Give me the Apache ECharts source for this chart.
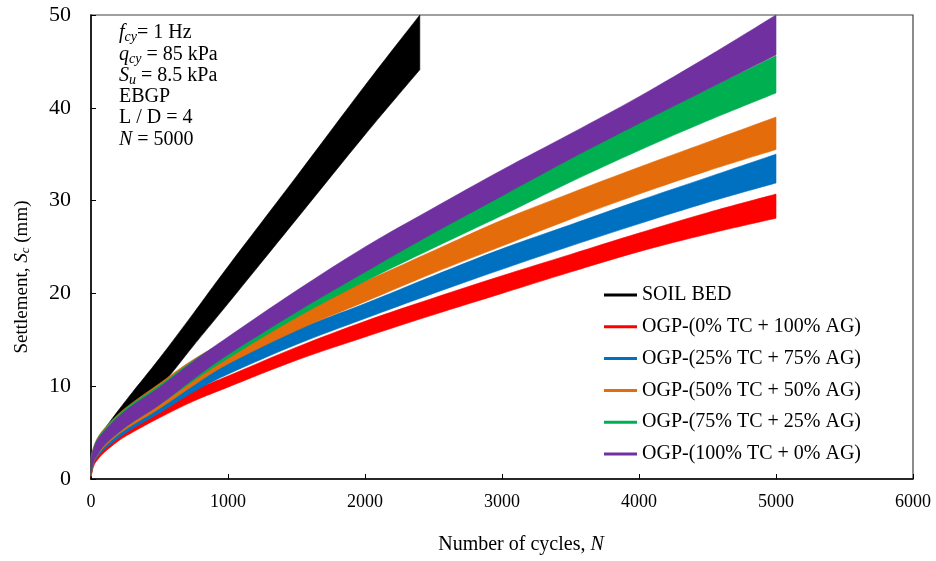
<!DOCTYPE html>
<html>
<head>
<meta charset="utf-8">
<script src="https://cdn.jsdelivr.net/npm/echarts@6/dist/echarts.min.js"></script>
<style>html,body{margin:0;padding:0;background:#fff}#c{width:936px;height:561px}</style>
</head>
<body>
<div id="c"></div>
<script>
// ---- Data ----
const xTicks = [0, 1000, 2000, 3000, 4000, 5000, 6000];
const yTicks = [0, 10, 20, 30, 40, 50];

const nSoil = [0, 20, 50, 100, 200, 300, 500, 750, 1000, 1500, 2000, 2400];
const soilLow = [0.3, 1.8, 2.6, 3.5, 5.0, 6.7, 9.8, 14.4, 18.9, 28.0, 37.1, 44.1];
const soilUp  = [2.3, 3.3, 4.2, 5.4, 7.4, 9.3, 13.0, 17.9, 22.9, 32.6, 42.4, 50.0];

const nOGP = [0, 20, 50, 100, 200, 300, 500, 750, 1000, 1500, 2000, 2500, 3000, 3500, 4000, 4500, 5000];
const redLow = [0.2, 1.4, 2.1, 2.9, 4.1, 5.0, 6.6, 8.4, 9.9, 12.8, 15.3, 17.7, 20.0, 22.3, 24.5, 26.4, 28.1];
const redUp  = [1.4, 2.4, 3.2, 4.1, 5.3, 6.3, 8.0, 9.6, 11.1, 14.2, 17.0, 19.5, 21.9, 24.2, 26.5, 28.7, 30.7];
const blueLow = [0.3, 1.7, 2.4, 3.2, 4.4, 5.4, 7.1, 9.4, 11.3, 14.5, 17.3, 20.0, 22.6, 25.1, 27.5, 29.8, 31.9];
const blueUp  = [2.0, 3.0, 3.9, 4.9, 6.3, 7.4, 9.2, 11.2, 13.0, 16.1, 18.9, 21.9, 24.8, 27.4, 30.0, 32.5, 35.0];
const orangeLow = [0.3, 1.8, 2.6, 3.5, 4.8, 5.8, 7.6, 10.1, 12.4, 16.0, 19.1, 22.2, 25.1, 28.0, 30.7, 33.2, 35.5];
const orangeUp  = [2.4, 3.5, 4.5, 5.5, 7.0, 8.2, 10.3, 12.9, 14.9, 18.3, 21.3, 24.6, 27.9, 30.8, 33.6, 36.3, 39.0];
const greenLow = [0.4, 1.9, 2.7, 3.7, 5.0, 6.1, 8.0, 10.6, 13.0, 17.4, 21.3, 24.9, 28.4, 32.0, 35.4, 38.6, 41.6];
const greenUp  = [2.3, 3.4, 4.4, 5.4, 6.9, 8.1, 10.1, 12.8, 15.1, 19.8, 24.0, 27.6, 31.1, 34.8, 38.4, 42.0, 45.6];
const purpleLow = [0.5, 1.9, 2.7, 3.7, 5.0, 6.1, 8.0, 10.8, 13.4, 18.0, 22.3, 26.5, 30.5, 34.5, 38.3, 42.0, 45.7];
const purpleUp  = [2.2, 3.3, 4.3, 5.2, 6.7, 7.9, 9.9, 12.7, 15.3, 20.3, 25.0, 29.2, 33.3, 37.2, 41.2, 45.5, 50.0];

const seriesNames = ['SOIL BED', 'OGP-(0% TC + 100% AG)', 'OGP-(25% TC + 75% AG)', 'OGP-(50% TC + 50% AG)', 'OGP-(75% TC + 25% AG)', 'OGP-(100% TC + 0% AG)'];
const seriesColors = ['#000000', '#FF0000', '#0070C0', '#E46C0A', '#00B050', '#7030A0'];

const FONT = '"Liberation Serif", "Times New Roman", serif';

// Catmull-Rom -> cubic bezier path through pixel points (rendering only)
function curveTo(pts, start) {
  let d = start ? 'M' + pts[0][0] + ',' + pts[0][1] : 'L' + pts[0][0] + ',' + pts[0][1];
  const t = 0.35;
  for (let i = 0; i < pts.length - 1; i++) {
    const p0 = pts[Math.max(i - 1, 0)], p1 = pts[i], p2 = pts[i + 1], p3 = pts[Math.min(i + 2, pts.length - 1)];
    const k = i === 0 ? 0.6 : 1;
    const c1 = [p1[0] + (p2[0] - p0[0]) * t / 2 * k, p1[1] + (p2[1] - p0[1]) * t / 2 * k];
    const c2 = [p2[0] - (p3[0] - p1[0]) * t / 2, p2[1] - (p3[1] - p1[1]) * t / 2];
    d += 'C' + c1[0] + ',' + c1[1] + ' ' + c2[0] + ',' + c2[1] + ' ' + p2[0] + ',' + p2[1];
  }
  return d;
}

function band(name, color, xs, lo, up) {
  return {
    type: 'custom',
    name: name,
    coordinateSystem: 'cartesian2d',
    data: xs.map((x, i) => [x, lo[i], up[i]]),
    encode: { x: 0, y: [1, 2] },
    itemStyle: { color: color },
    silent: true,
    renderItem: function (params, api) {
      if (params.dataIndex !== 0) return null;
      const top = xs.map((x, i) => api.coord([x, up[i]]));
      const bot = xs.map((x, i) => api.coord([x, lo[i]])).reverse();
      const d = curveTo(top, true) + curveTo(bot, false) + 'Z';
      return { type: 'path', shape: { pathData: d }, style: { fill: color, stroke: color, lineWidth: 0.6 } };
    }
  };
}

const chart = echarts.init(document.getElementById('c'), null, { renderer: 'canvas' });
const FS = 20;
const rich = {
  n: { fontFamily: FONT, fontSize: FS, color: '#000' },
  i: { fontFamily: FONT, fontSize: FS, fontStyle: 'italic', color: '#000' },
  s: { fontFamily: FONT, fontSize: 14, fontStyle: 'italic', color: '#000', verticalAlign: 'bottom', padding: [9, 0, 0, 0] }
};
function annot(y, text) {
  return { type: 'text', x: 119, y: y, style: { text: text, rich: rich, font: FS + 'px ' + FONT, fill: '#000', verticalAlign: 'middle' } };
}

chart.setOption({
  animation: false,
  backgroundColor: '#fff',
  grid: { left: 91, right: 23, top: 15, bottom: 82, show: true, borderColor: '#404040', borderWidth: 1.2 },
  xAxis: {
    type: 'value', min: 0, max: 6000, interval: 1000,
    axisLine: { lineStyle: { color: '#000', width: 1.5 } },
    axisTick: { inside: true, length: 5, lineStyle: { color: '#000' } },
    splitLine: { show: false },
    axisLabel: { fontFamily: FONT, fontSize: 18, color: '#000', margin: 14, formatter: v => String(v) }
  },
  yAxis: {
    type: 'value', min: 0, max: 50, interval: 10,
    axisLine: { lineStyle: { color: '#000', width: 1.5 } },
    axisTick: { inside: true, length: 5, lineStyle: { color: '#000' } },
    splitLine: { show: false },
    axisLabel: { fontFamily: FONT, fontSize: 22, color: '#000', margin: 20 }
  },
  legend: {
    orient: 'vertical', left: 599, top: 280,
    itemWidth: 33, itemHeight: 3, itemGap: 11.8, icon: 'rect',
    textStyle: { fontFamily: FONT, fontSize: 20, color: '#000', lineHeight: 20 },
    data: seriesNames
  },
  graphic: [
    annot(33, '{i|f}{s|cy}{n|= 1 Hz}'),
    annot(55, '{i|q}{s|cy}{n| = 85 kPa}'),
    annot(76, '{i|S}{s|u}{n| = 8.5 kPa}'),
    annot(97, '{n|EBGP}'),
    annot(118, '{n|L / D = 4}'),
    annot(140, '{i|N}{n| = 5000}'),
    { type: 'text', x: 521, y: 545, style: { text: '{n|Number of cycles, }{i|N}', rich: rich, font: FS + 'px ' + FONT, align: 'center', verticalAlign: 'middle' } },
    { type: 'text', x: 22, y: 277, rotation: Math.PI / 2, style: { text: '{n|Settlement, }{i|S}{s|c}{n| (mm)}', rich: {
      n: { fontFamily: FONT, fontSize: 19, color: '#000' },
      i: { fontFamily: FONT, fontSize: 19, fontStyle: 'italic', color: '#000' },
      s: { fontFamily: FONT, fontSize: 13, fontStyle: 'italic', color: '#000', verticalAlign: 'bottom', padding: [8, 0, 0, 0] }
    }, font: '19px ' + FONT, align: 'center', verticalAlign: 'middle' } }
  ],
  series: [
    band(seriesNames[0], seriesColors[0], nSoil, soilLow, soilUp),
    band(seriesNames[1], seriesColors[1], nOGP, redLow, redUp),
    band(seriesNames[2], seriesColors[2], nOGP, blueLow, blueUp),
    band(seriesNames[3], seriesColors[3], nOGP, orangeLow, orangeUp),
    band(seriesNames[4], seriesColors[4], nOGP, greenLow, greenUp),
    band(seriesNames[5], seriesColors[5], nOGP, purpleLow, purpleUp)
  ]
});
</script>
</body>
</html>
